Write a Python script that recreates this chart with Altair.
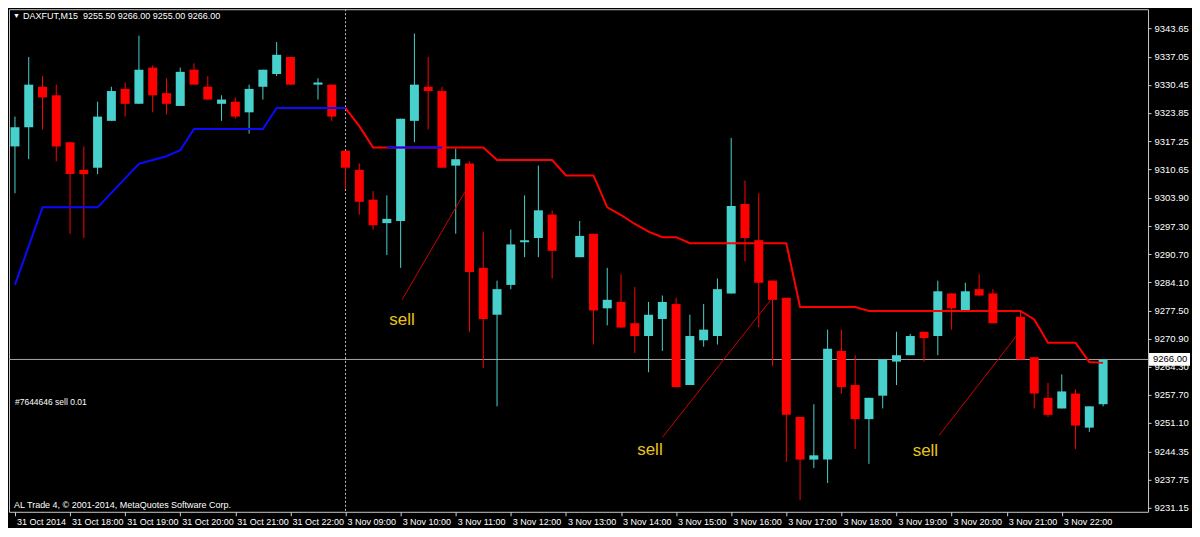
import json
import altair as alt
import pandas as pd

FONT = "Liberation Sans"
W, H = 1140, 503

# ---- candle data (bar slot index, OHLC) ----
idx = [0, 1, 2, 3, 4, 5, 6, 7, 8, 9, 10, 11, 12, 13, 14, 15, 16, 17, 18, 19, 20,
       22, 23, 24, 25, 26, 27, 28, 29, 30, 31, 32, 33, 34, 35, 36, 37, 38, 39,
       41, 42, 43, 44, 45, 46, 47, 48, 49, 50, 51, 52, 53, 54, 55, 56, 57, 58, 59,
       60, 61, 62, 63, 64, 65, 66, 67, 68, 69, 70, 71, 73, 74, 75, 76, 77, 78, 79]
opens = [9316.0, 9320.5, 9330.0, 9328.0, 9317.0, 9310.5, 9311.0, 9322.0, 9329.5, 9326.0, 9334.5,
         9328.5, 9325.5, 9334.0, 9330.0, 9326.0, 9326.5, 9324.0, 9330.0, 9333.0, 9337.0,
         9330.5, 9330.5, 9315.0, 9310.5, 9303.5, 9298.0, 9298.5, 9322.0, 9330.0, 9329.0,
         9311.5, 9312.0, 9287.5, 9276.5, 9283.5, 9293.5, 9294.5, 9300.0,
         9290.0, 9295.5, 9278.0, 9279.5, 9274.5, 9271.5, 9275.5, 9279.0, 9260.0, 9270.5,
         9271.5, 9281.5, 9302.5, 9294.0, 9284.5, 9280.5, 9252.5, 9242.5, 9242.5,
         9268.0, 9260.0, 9252.0, 9257.5, 9265.5, 9267.0, 9272.5, 9271.5, 9281.5, 9277.5,
         9282.5, 9281.5, 9276.0, 9266.5, 9257.0, 9254.5, 9258.0, 9250.0, 9255.5]
highs = [9323.0, 9337.0, 9332.5, 9330.5, 9317.0, 9316.0, 9326.5, 9330.0, 9331.0, 9342.0, 9335.0,
         9332.0, 9334.5, 9335.5, 9332.5, 9328.0, 9327.5, 9330.5, 9334.0, 9340.5, 9337.0,
         9332.0, 9330.5, 9315.0, 9312.0, 9305.5, 9304.5, 9322.5, 9342.5, 9337.0, 9330.0,
         9315.5, 9312.5, 9296.0, 9284.5, 9296.5, 9304.5, 9311.5, 9301.0,
         9298.5, 9295.5, 9287.5, 9286.0, 9283.0, 9279.5, 9281.0, 9280.5, 9276.5, 9279.0,
         9285.0, 9318.0, 9308.0, 9305.0, 9284.5, 9280.5, 9252.5, 9255.5, 9273.0,
         9273.0, 9267.0, 9257.0, 9266.0, 9272.5, 9272.0, 9272.5, 9284.5, 9281.5, 9284.0,
         9286.0, 9282.5, 9277.5, 9266.5, 9260.5, 9262.5, 9259.0, 9255.0, 9266.0]
lows = [9305.0, 9313.0, 9320.0, 9312.5, 9295.5, 9294.5, 9309.5, 9322.0, 9323.0, 9326.0, 9324.0,
        9323.5, 9325.5, 9330.5, 9327.0, 9322.0, 9322.5, 9319.0, 9327.0, 9332.5, 9330.5,
        9327.0, 9322.0, 9306.0, 9300.0, 9296.5, 9290.5, 9287.5, 9317.0, 9320.0, 9311.0,
        9295.5, 9272.5, 9264.0, 9255.0, 9282.5, 9290.0, 9290.0, 9285.0,
        9290.0, 9269.5, 9274.0, 9273.5, 9267.5, 9263.0, 9268.0, 9259.5, 9260.0, 9269.0,
        9269.5, 9281.5, 9289.0, 9273.5, 9264.5, 9242.0, 9233.0, 9240.5, 9237.0,
        9258.0, 9245.0, 9241.5, 9254.5, 9260.0, 9267.0, 9265.5, 9267.0, 9273.0, 9277.5,
        9281.0, 9274.5, 9266.0, 9254.5, 9252.5, 9254.5, 9245.0, 9249.0, 9255.0]
closes = [9320.5, 9330.5, 9327.5, 9316.0, 9309.5, 9309.5, 9323.0, 9329.0, 9326.0, 9334.0, 9328.0,
          9326.0, 9333.5, 9330.5, 9327.0, 9327.0, 9323.0, 9329.5, 9334.0, 9337.5, 9330.5,
          9331.0, 9323.0, 9311.0, 9303.0, 9297.5, 9299.0, 9322.5, 9330.5, 9329.0, 9311.0,
          9313.0, 9286.5, 9275.5, 9282.5, 9293.0, 9294.0, 9301.0, 9291.5,
          9295.0, 9277.5, 9280.0, 9273.5, 9271.5, 9276.5, 9279.5, 9259.5, 9271.5, 9273.0,
          9282.5, 9302.0, 9294.5, 9284.0, 9280.0, 9253.0, 9242.5, 9243.5, 9268.5,
          9259.5, 9252.0, 9257.0, 9266.0, 9267.0, 9271.5, 9271.0, 9282.0, 9278.0, 9282.0,
          9281.0, 9274.5, 9266.0, 9258.0, 9253.0, 9258.5, 9250.5, 9255.0, 9266.0]

# ---- indicator lines ----
blue_idx = [0, 1, 2, 3, 4, 5, 6, 7, 8, 9, 10, 11, 12, 13, 14, 15, 16, 17, 18, 19, 20, 21, 22, 23, 24,
            27, 28, 29, 30, 31]
blue_val = [9283.5, 9292.6, 9301.7, 9301.7, 9301.7, 9301.7, 9301.7, 9305.1, 9308.5, 9311.9, 9312.8,
            9313.7, 9315.1, 9320.1, 9320.1, 9320.1, 9320.1, 9320.1, 9320.1, 9325.0, 9325.0, 9325.0,
            9325.0, 9325.0, 9325.0,
            9315.75, 9315.75, 9315.75, 9315.75, 9315.75]
blue_seg = ["a"] * 25 + ["b"] * 5

red_idx = list(range(24, 80))
red_val = [9325.0, 9320.75, 9315.75, 9315.75, 9315.75, 9315.75, 9315.75, 9315.75, 9315.75, 9315.75,
           9315.75, 9312.8, 9312.8, 9312.8, 9312.8, 9312.8, 9309.2, 9309.2, 9309.2, 9301.7,
           9299.9, 9297.8, 9296.0, 9294.7, 9294.7, 9293.3, 9293.3, 9293.3, 9293.3, 9293.3,
           9293.3, 9293.3, 9293.3, 9278.3, 9278.3, 9278.3, 9278.3, 9278.3, 9277.4, 9277.4,
           9277.4, 9277.4, 9277.4, 9277.4, 9277.4, 9277.4, 9277.4, 9277.4, 9277.4, 9277.4,
           9275.4, 9269.9, 9269.9, 9269.9, 9265.4, 9265.2]

# ---- "sell" annotations ----
sell_text_i = [28.1, 46.1, 66.1]
sell_text_p = [9275.3, 9244.8, 9244.6]
sell_line_i1 = [28.1, 47.0, 67.1]
sell_line_p1 = [9280.0, 9247.7, 9248.2]
sell_line_i2 = [32.7, 55.0, 72.7]
sell_line_p2 = [9305.5, 9280.5, 9271.5]

# ---- axes ----
price_ticks = [9343.65, 9337.05, 9330.45, 9323.85, 9317.25, 9310.65, 9303.90, 9297.30, 9290.70,
               9284.10, 9277.50, 9270.90, 9264.30, 9257.70, 9251.10, 9244.35, 9237.75, 9231.15]
time_tick_idx = [0, 4, 8, 12, 16, 20, 24, 28, 32, 36, 40, 44, 48, 52, 56, 60, 64, 68, 72, 76]
time_labels = ["31 Oct 2014", "31 Oct 18:00", "31 Oct 19:00", "31 Oct 20:00", "31 Oct 21:00",
               "31 Oct 22:00", "3 Nov 09:00", "3 Nov 10:00", "3 Nov 11:00", "3 Nov 12:00",
               "3 Nov 13:00", "3 Nov 14:00", "3 Nov 15:00", "3 Nov 16:00", "3 Nov 17:00",
               "3 Nov 18:00", "3 Nov 19:00", "3 Nov 20:00", "3 Nov 21:00", "3 Nov 22:00"]
last_price = 9266.0
session_break = 24

CYAN = "#48d1cc"
RED = "#ff0000"

candles = pd.DataFrame({"i": idx, "open": opens, "high": highs, "low": lows, "close": closes})
candles["dir"] = ["up" if c >= o else "down" for o, c in zip(opens, closes)]

xs = alt.Scale(domain=[-0.07, 81.9], nice=False, zero=False)
ys = alt.Scale(domain=[9230.25, 9348.2], nice=False, zero=False)

label_expr = json.dumps(time_labels) + "[round(datum.value / 4)]"
xa = alt.Axis(values=time_tick_idx, labelExpr=label_expr, labelAlign="left", labelOffset=1.5,
              labelColor="#ffffff", labelFontSize=9, labelFont=FONT, tickColor="#d0d0d0",
              tickSize=4, domain=False, grid=False, labelOverlap=False, labelPadding=2,
              labelBound=False, title=None)
ya = alt.Axis(orient="right", values=price_ticks, format=".2f", labelColor="#ffffff",
              labelFontSize=9.5, labelFont=FONT, tickColor="#d0d0d0", tickSize=3,
              domain=False, grid=False, labelOverlap=False, labelPadding=3, title=None)

X = lambda f: alt.X(f, scale=xs, axis=xa)
Y = lambda f: alt.Y(f, scale=ys, axis=ya)
col = alt.Color("dir:N", scale=alt.Scale(domain=["up", "down"], range=[CYAN, RED]), legend=None)

base = alt.Chart(candles)

hline = alt.Chart(pd.DataFrame({"p": [last_price]})).mark_rule(
    color="#a8a8a8", strokeWidth=1).encode(y=Y("p:Q"))
vline = alt.Chart(pd.DataFrame({"i": [session_break]})).mark_rule(
    color="#c0c0c0", strokeWidth=1, strokeDash=[2, 2]).encode(x=X("i:Q"))

wicks = base.mark_rule(strokeWidth=1).encode(x=X("i:Q"), y=Y("low:Q"), y2="high:Q", color=col)
bodies = base.mark_bar(size=9).encode(x=X("i:Q"), y=Y("open:Q"), y2="close:Q", color=col)

blue_df = pd.DataFrame({"i": blue_idx, "v": blue_val, "s": blue_seg})
red_df = pd.DataFrame({"i": red_idx, "v": red_val})
red_line = alt.Chart(red_df).mark_line(color=RED, strokeWidth=2).encode(
    x=X("i:Q"), y=Y("v:Q"))
blue_line = alt.Chart(blue_df).mark_line(color="#0a0aff", strokeWidth=2).encode(
    x=X("i:Q"), y=Y("v:Q"), detail="s:N")

sell_lines = alt.Chart(pd.DataFrame({"i1": sell_line_i1, "p1": sell_line_p1,
                                     "i2": sell_line_i2, "p2": sell_line_p2})).mark_rule(
    color="#d00000", strokeWidth=1).encode(x=X("i1:Q"), y=Y("p1:Q"), x2="i2:Q", y2="p2:Q")
sell_texts = alt.Chart(pd.DataFrame({"i": sell_text_i, "p": sell_text_p,
                                     "t": ["sell"] * 3})).mark_text(
    color="#e8c41c", fontSize=17, font=FONT, align="center", baseline="middle").encode(
    x=X("i:Q"), y=Y("p:Q"), text="t:N")


def ptext(txt, x, y, size, color="#ffffff", align="left"):
    return alt.Chart(pd.DataFrame({"t": [txt]})).mark_text(
        align=align, baseline="middle", fontSize=size, color=color, font=FONT).encode(
        x=alt.value(x), y=alt.value(y), text="t:N")


header_tri = ptext("\u25bc", 4, 7, 7)
header = ptext("DAXFUT,M15\u00a0\u00a09255.50 9266.00 9255.00 9266.00", 14, 7, 9)
trade = ptext("#7644646 sell 0.01", 6, 393, 8.5)
copyright_t = ptext("AL Trade 4, \u00a9 2001-2014, MetaQuotes Software Corp.", 5, 496, 9)

box = alt.Chart(pd.DataFrame({"a": [last_price + 1.5], "b": [last_price - 1.5]})).mark_rect(
    color="#ffffff").encode(x=alt.value(W + 1), x2=alt.value(W + 42), y=Y("a:Q"), y2="b:Q")
box_text = alt.Chart(pd.DataFrame({"p": [last_price], "t": ["9266.00"]})).mark_text(
    color="#000000", fontSize=9.5, font=FONT, align="left", baseline="middle").encode(
    x=alt.value(W + 5), y=Y("p:Q"), text="t:N")

chart = alt.layer(
    hline, vline, wicks, bodies, red_line, blue_line, sell_lines, sell_texts,
    header_tri, header, trade, copyright_t, box, box_text
).properties(
    width=W, height=H, background="#000000",
    padding={"left": 0, "top": 0, "right": 2, "bottom": 1}
).configure_view(
    stroke="#c8c8c8", strokeWidth=1
)

chart.save("out.html", embed_options={"renderer": "svg", "actions": False})
